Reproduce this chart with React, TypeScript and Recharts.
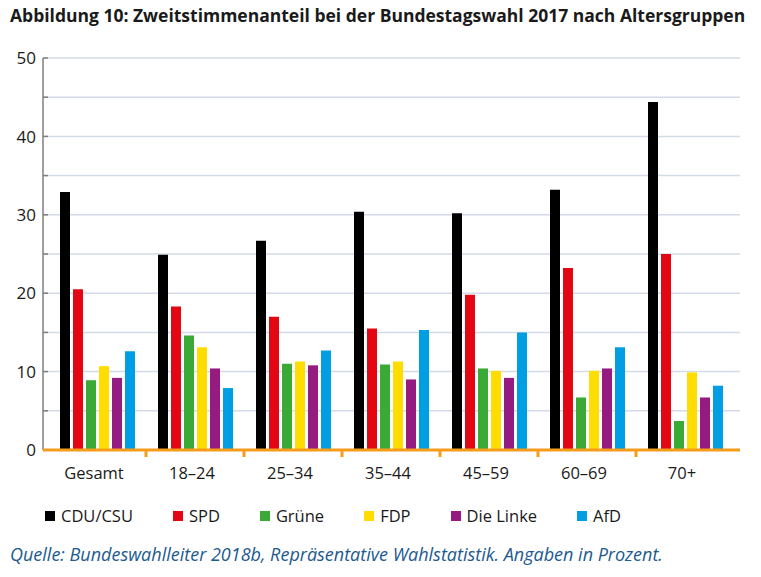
import React from "react";
import { BarChart, Bar, XAxis, YAxis, CartesianGrid } from "recharts";

// Zweitstimmenanteil BTW 2017 nach Altersgruppen, Werte in Prozent

const groups = ["Gesamt", "18–24", "25–34", "35–44", "45–59", "60–69", "70+"];

const cduCsu = [32.9, 24.9, 26.7, 30.4, 30.2, 33.2, 44.4];
const spd = [20.5, 18.3, 17.0, 15.5, 19.8, 23.2, 25.0];
const gruene = [8.9, 14.6, 11.0, 10.9, 10.4, 6.7, 3.7];
const fdp = [10.7, 13.1, 11.3, 11.3, 10.1, 10.1, 9.9];
const linke = [9.2, 10.4, 10.8, 9.0, 9.2, 10.4, 6.7];
const afd = [12.6, 7.9, 12.7, 15.3, 15.0, 13.1, 8.2];

const yTicks = [0, 5, 10, 15, 20, 25, 30, 35, 40, 45, 50];

const parties = [
  { key: "cdu", name: "CDU/CSU", color: "#000000", values: cduCsu },
  { key: "spd", name: "SPD", color: "#e30613", values: spd },
  { key: "gruene", name: "Grüne", color: "#3aa935", values: gruene },
  { key: "fdp", name: "FDP", color: "#ffdd00", values: fdp },
  { key: "linke", name: "Die Linke", color: "#951b81", values: linke },
  { key: "afd", name: "AfD", color: "#009fe3", values: afd },
];

const data = groups.map((g, i) => {
  const row: Record<string, string | number> = { group: g };
  parties.forEach((p) => {
    row[p.key] = p.values[i];
  });
  return row;
});

const FONT = "'Open Sans', 'Noto Sans', sans-serif";
const ORANGE = "#f59c1a";
const TEXT = "#1a1a1a";

function XTick(props: any) {
  const { x, y, payload, index } = props;
  const half = payload && payload.offset ? payload.offset : 49;
  return (
    <g>
      {index < groups.length - 1 && (
        <line x1={x + half} x2={x + half} y1={y} y2={y + 7} stroke={ORANGE} strokeWidth={3} />
      )}
      <text x={x - 3} y={y + 29} textAnchor="middle" fontSize={16.5} fill={TEXT} fontFamily={FONT}>
        {payload.value}
      </text>
    </g>
  );
}

function YTick(props: any) {
  const { x, y, payload } = props;
  const v = payload.value;
  return (
    <g>
      {v > 0 && <line x1={x} x2={x + 5} y1={y} y2={y} stroke="#7f7f7f" strokeWidth={1.5} />}
      {v % 10 === 0 && (
        <text x={x - 7} y={y} dy="0.36em" textAnchor="end" fontSize={17} fill={TEXT} fontFamily={FONT}>
          {v}
        </text>
      )}
    </g>
  );
}

export default function App() {
  return (
    <div
      style={{
        position: "absolute",
        left: 0,
        top: 0,
        width: 761,
        height: 577,
        background: "#fff",
        fontFamily: FONT,
      }}
    >
      <div
        style={{
          position: "absolute",
          left: 10,
          top: 3,
          fontSize: 17.5,
          fontWeight: 700,
          color: TEXT,
          whiteSpace: "nowrap",
        }}
      >
        Abbildung 10: Zweitstimmenanteil bei der Bundestagswahl 2017 nach Altersgruppen
      </div>

      <div style={{ position: "absolute", left: 0, top: 0 }}>
        <BarChart
          width={761}
          height={500}
          data={data}
          margin={{ top: 58, right: 21, bottom: 20, left: 8 }}
          barSize={10}
          barGap={3}
        >
          <CartesianGrid vertical={false} stroke="#d3dbe8" strokeWidth={1.5} />
          <YAxis
            width={35}
            domain={[0, 50]}
            ticks={yTicks}
            interval={0}
            tickSize={0}
            tickMargin={0}
            tickLine={false}
            axisLine={{ stroke: "#7f7f7f", strokeWidth: 1.5 }}
            tick={<YTick />}
          />
          <XAxis
            dataKey="group"
            height={30}
            padding={{ left: 5, right: 6 }}
            interval={0}
            tickSize={0}
            tickMargin={0}
            tickLine={false}
            axisLine={{ stroke: ORANGE, strokeWidth: 3 }}
            tick={<XTick />}
          />
          {parties.map((p) => (
            <Bar key={p.key} dataKey={p.key} name={p.name} fill={p.color} isAnimationActive={false} />
          ))}
        </BarChart>
      </div>

      <div
        style={{
          position: "absolute",
          left: 45,
          top: 504,
          display: "flex",
          alignItems: "center",
          fontSize: 16.5,
          color: TEXT,
        }}
      >
        {parties.map((p) => (
          <div key={p.key} style={{ display: "flex", alignItems: "center", marginRight: 40 }}>
            <span style={{ width: 10, height: 10, background: p.color, marginRight: 6, display: "inline-block" }} />
            <span>{p.name}</span>
          </div>
        ))}
      </div>

      <div
        style={{
          position: "absolute",
          left: 10,
          top: 542,
          fontSize: 18,
          fontStyle: "italic",
          color: "#215a8f",
          whiteSpace: "nowrap",
        }}
      >
        Quelle: Bundeswahlleiter 2018b, Repräsentative Wahlstatistik. Angaben in Prozent.
      </div>
    </div>
  );
}
